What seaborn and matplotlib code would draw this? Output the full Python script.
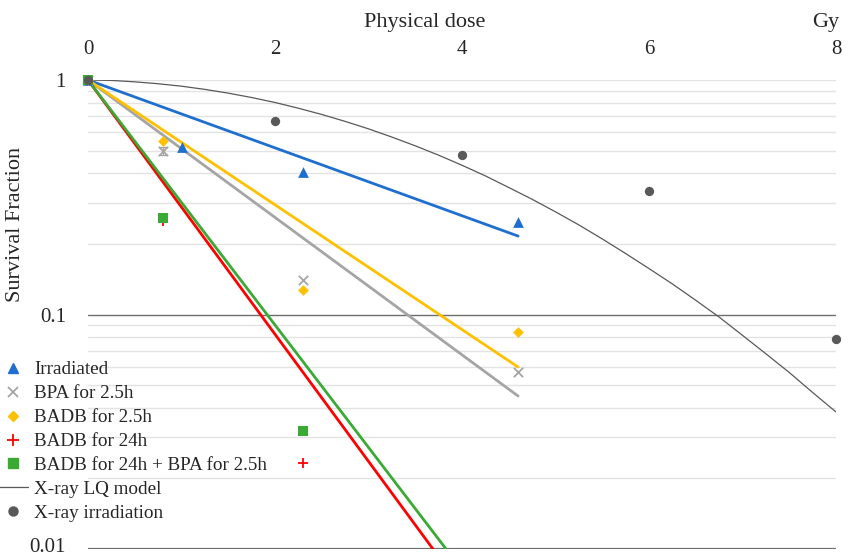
import numpy as np
import pandas as pd
import matplotlib
matplotlib.use('Agg')
import matplotlib.pyplot as plt
import matplotlib.transforms as mtransforms
from matplotlib.lines import Line2D
import seaborn as sns

# measured points (dose in Gy, survival fraction)
irr_dose = [0, 1.0, 2.3, 4.6]
irr_sf = [1.0, 0.52, 0.405, 0.248]
bpa_dose = [0, 0.8, 2.3, 4.6]
bpa_sf = [1.0, 0.50, 0.140, 0.057]
badb25_dose = [0, 0.8, 2.3, 4.6]
badb25_sf = [1.0, 0.55, 0.127, 0.084]
badb24_dose = [0, 0.8, 2.3]
badb24_sf = [1.0, 0.25, 0.0233]
combo_dose = [0, 0.8, 2.3]
combo_sf = [1.0, 0.258, 0.032]
xray_dose = [0, 2, 4, 6, 8]
xray_sf = [1.0, 0.668, 0.479, 0.336, 0.0787]

# fitted exponential lines (start / end points)
fit_dose = [0, 4.6]
irr_fit = [1.0, 0.216]
bpa_fit = [1.0, 0.0449]
badb25_fit = [1.0, 0.0597]
badb24_fit = [1.0, 0.00321]
combo_fit = [1.0, 0.00396]

# X-ray LQ model curve
lq_dose = [0, 0.25, 0.5, 0.75, 1, 1.25, 1.5, 1.75, 2, 2.25, 2.5, 2.75, 3, 3.25,
           3.5, 3.75, 4, 4.25, 4.5, 4.75, 5, 5.25, 5.5, 5.75, 6, 6.25, 6.5,
           6.75, 7, 7.25, 7.5, 7.75, 8]
lq_sf = [1.0, 0.996, 0.982, 0.964, 0.941, 0.912, 0.879, 0.842, 0.802,
         0.758, 0.713, 0.666, 0.619, 0.571, 0.524, 0.478, 0.433, 0.390,
         0.348, 0.310, 0.274, 0.241, 0.210, 0.182, 0.157, 0.135, 0.115,
         0.0975, 0.0815, 0.0680, 0.0566, 0.0465, 0.0384]

blue = '#1f6fcf'
grey = '#a5a5a5'
yellow = '#ffc000'
red = '#ff0000'
green = '#3aaa35'
dark = '#595959'

sns.set_style('white')
plt.rcParams['font.family'] = ['Liberation Serif', 'DejaVu Serif']

fig = plt.figure(figsize=(8.5, 5.57), dpi=100)
ax = fig.add_axes([88 / 850, 1 - 549 / 557, 748 / 850, 469 / 557])
ax.set_yscale('log')
ax.set_xlim(0, 8)
ax.set_ylim(0.01, 1)

# grid
for k in [0.01, 0.1]:
    for m in range(2, 10):
        ax.axhline(k * m, color='#e3e3e3', lw=1.0, zorder=0)
ax.axhline(1.0, color='#e3e3e3', lw=1.0, zorder=0)
ax.axhline(0.1, color='#6e6e6e', lw=1.0, zorder=0)
ax.axhline(0.01, color='#6e6e6e', lw=1.6, zorder=0)

# fit lines
fits = [(irr_fit, blue), (bpa_fit, grey), (badb25_fit, yellow),
        (badb24_fit, red), (combo_fit, green)]
for vals, c in fits:
    df = pd.DataFrame({'dose': fit_dose, 'sf': vals})
    sns.lineplot(data=df, x='dose', y='sf', color=c, lw=2.0, ax=ax, zorder=2)

lq = pd.DataFrame({'dose': lq_dose, 'sf': lq_sf})
sns.lineplot(data=lq, x='dose', y='sf', color=dark, lw=0.9, ax=ax, zorder=2)

# markers
ax.errorbar([0.8], [0.50], yerr=[[0.02], [0.02]], fmt='none', ecolor=grey,
            elinewidth=1, capsize=3, zorder=3)
sets = [
    (irr_dose, irr_sf, blue, '^', 60, 0),
    (bpa_dose, bpa_sf, grey, 'x', 45, 1.3),
    (badb25_dose, badb25_sf, yellow, 'D', 30, 0),
    (badb24_dose, badb24_sf, red, '+', 60, 1.3),
    (combo_dose, combo_sf, green, 's', 55, 0),
    (xray_dose, xray_sf, dark, 'o', 45, 0),
]
for xs, ys, c, m, s, lw in sets:
    df = pd.DataFrame({'dose': xs, 'sf': ys})
    sns.scatterplot(data=df, x='dose', y='sf', color=c, marker=m, s=s,
                    linewidth=lw, edgecolor=c if lw == 0 else None,
                    ax=ax, zorder=4, clip_on=False)

for sp in ax.spines.values():
    sp.set_visible(False)

ax.xaxis.tick_top()
ax.set_xticks([0, 2, 4, 6, 8])
ax.set_xticklabels(['0', '2', '4', '6', '8'])
ax.set_yticks([1, 0.1, 0.01])
ax.set_yticklabels(['1', '0.1', '0.01'])
ax.yaxis.set_minor_locator(matplotlib.ticker.NullLocator())
ax.tick_params(axis='x', length=0, pad=15, labelsize=15)
ax.tick_params(axis='y', length=0, pad=16, labelsize=15)
ax.set_xlabel('')
ax.set_ylabel('Survival Fraction', fontsize=16)
ax.yaxis.set_label_coords(-0.084, 0.693)

# lift the bottom tick label a little so it stays inside the figure
lab = ax.get_yticklabels()[2]
lab.set_transform(lab.get_transform() +
                  mtransforms.ScaledTranslation(0, 4 / 100, fig.dpi_scale_trans))

fig.text(425 / 850, 1 - 22 / 557, 'Physical dose', ha='center', va='center', fontsize=16)
fig.text(826 / 850, 1 - 22 / 557, 'Gy', ha='center', va='center', fontsize=16)

handles = [
    Line2D([], [], ls='none', marker='^', color=blue, ms=7),
    Line2D([], [], ls='none', marker='x', color=grey, ms=6.5, mew=1.3),
    Line2D([], [], ls='none', marker='D', color=yellow, ms=5),
    Line2D([], [], ls='none', marker='+', color=red, ms=8, mew=1.3),
    Line2D([], [], ls='none', marker='s', color=green, ms=7),
    Line2D([], [], color=dark, lw=0.9),
    Line2D([], [], ls='none', marker='o', color=dark, ms=6.5),
]
labels = ['Irradiated', 'BPA for 2.5h', 'BADB for 2.5h', 'BADB for 24h',
          'BADB for 24h + BPA for 2.5h', 'X-ray LQ model', 'X-ray irradiation']
fig.legend(handles, labels, loc='upper left', bbox_to_anchor=(-0.003, 1 - 361 / 557),
           frameon=False, fontsize=13.8, handlelength=1.6, handletextpad=0.3,
           labelspacing=0.34, borderpad=0, borderaxespad=0)

fig.savefig('out.png', dpi=100)
